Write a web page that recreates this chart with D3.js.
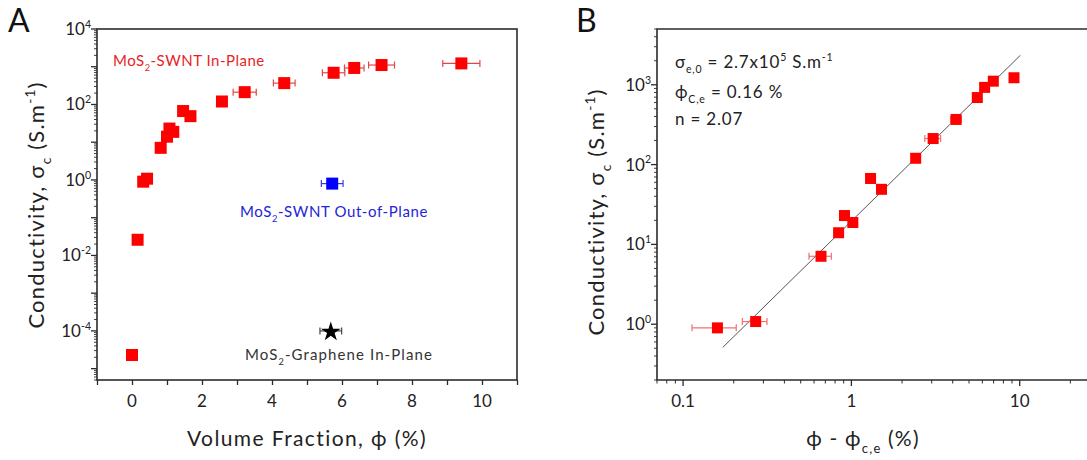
<!DOCTYPE html>
<html>
<head>
<meta charset="utf-8">
<script src="https://cdn.jsdelivr.net/npm/d3@7"></script>
<style>
  html, body { margin: 0; padding: 0; background: #fff; }
  svg { display: block; font-family: "Lato", "DejaVu Sans", sans-serif; }
</style>
</head>
<body>
<svg id="chart" width="1087" height="460"></svg>
<script>
// MoS2-SWNT in-plane conductivity vs. volume fraction (%)
const phiInPlane   = [0.00, 0.16, 0.32, 0.43, 0.82, 1.00, 1.07, 1.18, 1.46, 1.67, 2.57, 3.22, 4.35, 5.76, 6.35, 7.13, 9.41];
const sigmaInPlane = [2.3e-5, 0.026, 0.90, 1.08, 7.1, 14, 23, 18.8, 67, 49, 120, 212, 368, 692, 928, 1110, 1225];
const phiErr       = [0, 0, 0.047, 0.045, 0.10, 0.05, 0.05, 0.05, 0.05, 0.05, 0.10, 0.33, 0.31, 0.32, 0.28, 0.37, 0.53];

// single out-of-plane and MoS2-graphene measurements
const phiOutOfPlane = [5.72], sigmaOutOfPlane = [0.80], errOutOfPlane = [0.31];
const phiGraphene   = [5.68], sigmaGraphene   = [1.0e-4], errGraphene   = [0.31];

// percolation fit parameters
const sigma0 = 2.7e5;   // S/m
const phiC   = 0.16;    // %
const nExp   = 2.07;
const fitRange = [0.172, 10.1];

const xTicksA = [0, 2, 4, 6, 8, 10];
const yTicksA = [-4, -2, 0, 2, 4];
const xTicksB = [0.1, 1, 10];
const yTicksB = [0, 1, 2, 3];

const svg = d3.select("#chart");
const axisColor = "#2b2b2b";

// draw text made of normal / subscript / superscript pieces
function richText(g, parts, size, spacing) {
  if (spacing) g.attr("letter-spacing", spacing);
  let shift = 0;
  parts.forEach(p => {
    const [str, kind] = Array.isArray(p) ? p : [p, null];
    let target = 0;
    if (kind === "sub") target = size * 0.32;
    if (kind === "sup") target = -size * 0.42;
    g.append("tspan").text(str)
      .attr("dy", target - shift)
      .attr("font-size", kind ? size * 0.62 : size);
    shift = target;
  });
  return g;
}

function logMinor(lo, hi) {
  const out = [];
  for (let e = Math.floor(Math.log10(lo)); e <= Math.ceil(Math.log10(hi)); e++) {
    for (let m = 1; m < 10; m++) {
      const v = m * Math.pow(10, e);
      if (v >= lo * 0.999 && v <= hi * 1.001) out.push({v, major: m === 1});
    }
  }
  return out;
}

// ---------------- Panel A ----------------
const A = {left: 97, right: 517, top: 29, bottom: 380};
const xA = d3.scaleLinear().domain([-1, 11]).range([A.left, A.right]);
const yA = d3.scaleLog().domain([5e-6, 1e4]).range([A.bottom, A.top]);
const gA = svg.append("g");

gA.append("rect").attr("x", A.left).attr("y", A.top)
  .attr("width", A.right - A.left).attr("height", A.bottom - A.top)
  .attr("fill", "none").attr("stroke", axisColor).attr("stroke-width", 1.6);

// x ticks
const xAxisA = d3.axisBottom(xA).tickValues(d3.range(-1, 12, 1)).tickSize(5).tickFormat("");
gA.append("g").attr("transform", `translate(0,${A.bottom})`).call(xAxisA)
  .call(g => g.select(".domain").remove())
  .call(g => g.selectAll("line").attr("stroke", axisColor).attr("stroke-width", 1.3));
xTicksA.forEach(t => {
  gA.append("text").attr("x", xA(t)).attr("y", A.bottom + 27)
    .attr("text-anchor", "middle").attr("font-size", 17).attr("fill", "#222").text(t);
});

// y ticks (log)
logMinor(5e-6, 1e4).forEach(({v, major}) => {
  const y = yA(v);
  gA.append("line").attr("x1", A.left).attr("x2", A.left - (major ? 6 : 3))
    .attr("y1", y).attr("y2", y).attr("stroke", axisColor).attr("stroke-width", major ? 1.3 : 0.9);
});
yTicksA.forEach(e => {
  const t = gA.append("text").attr("x", A.left - 6).attr("y", yA(Math.pow(10, e)) + 6)
    .attr("text-anchor", "end").attr("fill", "#222");
  richText(t, ["10", [String(e), "sup"]], 17);
});

// horizontal error bars
function hErr(g, ys, xs, vals, errs, color, cap) {
  vals.forEach((v, i) => {
    if (!errs[i]) return;
    const cy = ys[i];
    const x0 = xs(v - errs[i]), x1 = xs(v + errs[i]);
    g.append("line").attr("x1", x0).attr("x2", x1).attr("y1", cy).attr("y2", cy)
      .attr("stroke", color).attr("stroke-width", 1.2);
    [x0, x1].forEach(xx => g.append("line").attr("x1", xx).attr("x2", xx)
      .attr("y1", cy - cap).attr("y2", cy + cap).attr("stroke", color).attr("stroke-width", 1.2));
  });
}
hErr(gA, sigmaInPlane.map(yA), xA, phiInPlane, phiErr, "#e04848", 3.5);
hErr(gA, sigmaOutOfPlane.map(yA), xA, phiOutOfPlane, errOutOfPlane, "#3a3ae0", 3.5);
hErr(gA, sigmaGraphene.map(yA), xA, phiGraphene, errGraphene, "#444", 3.5);

const sqA = 12;
gA.selectAll("rect.inA").data(phiInPlane).join("rect")
  .attr("x", d => xA(d) - sqA / 2).attr("y", (d, i) => yA(sigmaInPlane[i]) - sqA / 2)
  .attr("width", sqA).attr("height", sqA).attr("fill", "#ff0000");
gA.selectAll("rect.outA").data(phiOutOfPlane).join("rect")
  .attr("x", d => xA(d) - sqA / 2).attr("y", (d, i) => yA(sigmaOutOfPlane[i]) - sqA / 2)
  .attr("width", sqA).attr("height", sqA).attr("fill", "#0000ff");
const star = d3.symbol().type(d3.symbolStar).size(120);
gA.selectAll("path.star").data(phiGraphene).join("path")
  .attr("d", star).attr("fill", "#000")
  .attr("transform", (d, i) => `translate(${xA(d)},${yA(sigmaGraphene[i]) + 1})`);

// series labels
richText(gA.append("text").attr("x", 113).attr("y", 66).attr("fill", "#e8231f"),
  ["MoS", ["2", "sub"], "-SWNT In-Plane"], 15, 0.5);
richText(gA.append("text").attr("x", 240).attr("y", 217).attr("fill", "#2424d8"),
  ["MoS", ["2", "sub"], "-SWNT Out-of-Plane"], 15, 0.6);
richText(gA.append("text").attr("x", 245).attr("y", 360).attr("fill", "#333"),
  ["MoS", ["2", "sub"], "-Graphene In-Plane"], 15, 1.1);

// axis titles
richText(gA.append("text").attr("x", 307).attr("y", 446).attr("text-anchor", "middle").attr("fill", "#222"),
  ["Volume Fraction, ϕ (%)"], 21, 1.4);
richText(gA.append("text").attr("transform", "translate(44,205) rotate(-90)")
  .attr("text-anchor", "middle").attr("fill", "#222"),
  ["Conductivity, σ", ["c", "sub"], " (S.m", ["-1", "sup"], ")"], 22, 1.2);

svg.append("text").attr("x", 8).attr("y", 32).attr("font-size", 32).attr("fill", "#111").text("A");

// ---------------- Panel B ----------------
const B = {left: 657, right: 1100, top: 29, bottom: 380};
const xB = d3.scaleLog().domain([0.07, 30]).range([B.left, B.right]);
const yB = d3.scaleLog().domain([0.2, 5000]).range([B.bottom, B.top]);
const gB = svg.append("g");

gB.append("path")
  .attr("d", `M${B.right},${B.top}H${B.left}V${B.bottom}H${B.right}`)
  .attr("fill", "none").attr("stroke", axisColor).attr("stroke-width", 1.6);

logMinor(0.07, 30).forEach(({v, major}) => {
  const x = xB(v);
  gB.append("line").attr("x1", x).attr("x2", x).attr("y1", B.bottom).attr("y2", B.bottom + (major ? 6 : 3.5))
    .attr("stroke", axisColor).attr("stroke-width", major ? 1.3 : 1);
});
xTicksB.forEach(t => {
  gB.append("text").attr("x", xB(t)).attr("y", B.bottom + 27)
    .attr("text-anchor", "middle").attr("font-size", 17).attr("fill", "#222").text(t);
});
logMinor(0.2, 5000).forEach(({v, major}) => {
  const y = yB(v);
  gB.append("line").attr("x1", B.left).attr("x2", B.left - (major ? 6 : 3))
    .attr("y1", y).attr("y2", y).attr("stroke", axisColor).attr("stroke-width", major ? 1.3 : 0.9);
});
yTicksB.forEach(e => {
  const t = gB.append("text").attr("x", B.left - 6).attr("y", yB(Math.pow(10, e)) + 6)
    .attr("text-anchor", "end").attr("fill", "#222");
  richText(t, ["10", [String(e), "sup"]], 17);
});

// fit line: sigma = sigma0 * ((phi - phiC)/100)^n
const fitLine = d3.line().x(d => xB(d)).y(d => yB(sigma0 * Math.pow(d / 100, nExp)));
gB.append("path").attr("d", fitLine(fitRange))
  .attr("fill", "none").attr("stroke", "#555").attr("stroke-width", 1);

const reduced = phiInPlane.map(p => p - phiC);
const idxB = d3.range(reduced.length).filter(i => reduced[i] > 0);
hErr(gB, idxB.map(i => yB(sigmaInPlane[i])), xB,
  idxB.map(i => reduced[i]), idxB.map(i => phiErr[i]), "#f07070", 3.5);
const sqB = 11;
gB.selectAll("rect.inB").data(idxB).join("rect")
  .attr("x", i => xB(reduced[i]) - sqB / 2).attr("y", i => yB(sigmaInPlane[i]) - sqB / 2)
  .attr("width", sqB).attr("height", sqB).attr("fill", "#ff0000");

// fit annotations
richText(gB.append("text").attr("x", 675).attr("y", 68).attr("fill", "#222"),
  ["σ", ["e,0", "sub"], " = 2.7x10", ["5", "sup"], " S.m", ["-1", "sup"]], 17, 0.8);
richText(gB.append("text").attr("x", 675).attr("y", 98).attr("fill", "#222"),
  ["ϕ", ["C,e", "sub"], " = 0.16 %"], 17, 0.8);
richText(gB.append("text").attr("x", 675).attr("y", 125).attr("fill", "#222"),
  ["n = 2.07"], 17, 0.8);

richText(gB.append("text").attr("x", 863).attr("y", 446).attr("text-anchor", "middle").attr("fill", "#222"),
  ["ϕ - ϕ", ["c,e", "sub"], " (%)"], 21, 1.2);
richText(gB.append("text").attr("transform", "translate(604,212) rotate(-90)")
  .attr("text-anchor", "middle").attr("fill", "#222"),
  ["Conductivity, σ", ["c", "sub"], " (S.m", ["-1", "sup"], ")"], 22, 1.2);

svg.append("text").attr("x", 576).attr("y", 32).attr("font-size", 32).attr("fill", "#111").text("B");
</script>
</body>
</html>
